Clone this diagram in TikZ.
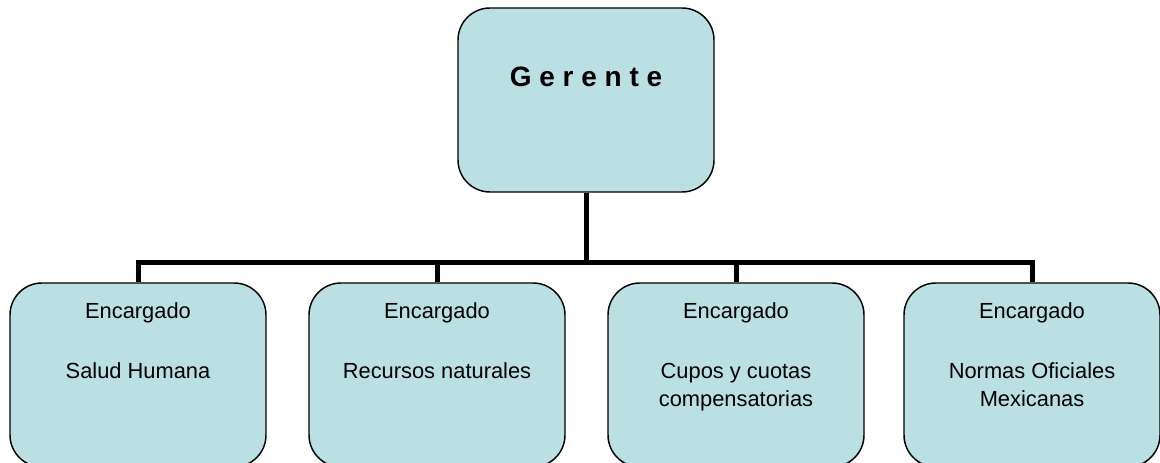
\documentclass[tikz,border=0pt]{standalone}
\usepackage{fontspec}
\setmainfont{Liberation Sans}
\definecolor{BoxCyan}{RGB}{187,224,227}
\begin{document}
\begin{tikzpicture}[
        x=0.75pt, y=0.75pt,
        box/.style={draw, line width=1.1pt, rounded corners=24pt, fill=BoxCyan,
                    minimum width=192pt, minimum height=138pt, inner sep=0pt},
        role/.style={align=center, anchor=base,
                     font=\fontsize{16.4}{21}\selectfont},
        link/.style={line width=3.75pt}
    ]
        \useasboundingbox (0,0) rectangle (1160,463);

        \node[box] (boss) at (586,363) {};
        \node[anchor=base, font=\fontsize{21}{25}\selectfont\bfseries] (bosstitle) at (586,376.3) {G e r e n t e};

        \node[box] (salud) at (138,88) {};
        \node[box] (recursos) at (437,88) {};
        \node[box] (cupos) at (736,88) {};
        \node[box] (normas) at (1032,88) {};

        \node[role] (saludtxt) at (138,84) {Encargado\\[24pt]Salud Humana};
        \node[role] (recursostxt) at (437,84) {Encargado\\[24pt]Recursos naturales};
        \node[role] (cupostxt) at (736,56) {Encargado\\[24pt]Cupos y cuotas\\compensatorias};
        \node[role] (normastxt) at (1032,56) {Encargado\\[24pt]Normas Oficiales\\Mexicanas};

        \coordinate (fork) at (586,200);
        \draw[link] (boss) -- (fork);
        \draw[link] (salud.north) |- (fork) -| (normas.north);
        \draw[link] (recursos.north) -- (recursos.north |- fork);
        \draw[link] (cupos.north) -- (cupos.north |- fork);
    \end{tikzpicture}
\end{document}
